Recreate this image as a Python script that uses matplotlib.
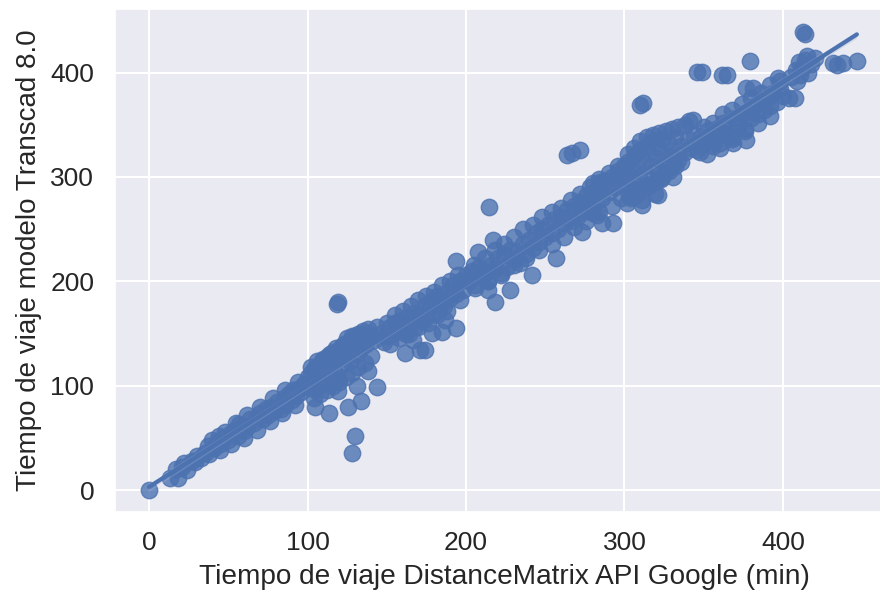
import matplotlib
matplotlib.use("Agg")
import matplotlib.pyplot as plt
import seaborn as sns
import numpy as np

# Travel time (minutes)
band_x_a = [0, 13, 18, 17, 21, 24, 22, 27, 30, 29, 33, 35, 38, 37, 41, 43, 45, 47, 44, 50, 52, 54, 56, 58, 60, 57]
band_y_a = [0, 12, 12, 20, 22, 19, 26, 28, 33, 27, 31, 36, 35, 42, 40, 46, 44, 50, 52, 48, 55, 58, 52, 60, 57, 63]

band_x_b = [62, 64, 66, 68, 70, 72, 74, 75, 77, 79, 81, 83, 85, 86, 88, 90, 91, 93, 95, 96, 98,
            40, 48, 55, 62, 70, 78, 86, 94, 45, 52, 60, 68, 76, 84, 92]
band_y_b = [60, 68, 64, 70, 74, 68, 78, 72, 80, 76, 84, 78, 88, 82, 92, 86, 96, 90, 98, 94, 102,
            48, 56, 64, 72, 80, 88, 96, 104, 38, 44, 50, 58, 66, 74, 82]

band_x_c = [100, 101, 102, 103, 104, 105, 106, 107, 108, 109, 110, 111, 112, 113, 114, 115, 116, 117, 118, 119,
            120, 121, 122, 123, 124, 125, 126, 127, 128, 129, 130, 131, 132, 133, 134, 135, 136, 137, 138, 140,
            142, 144, 146, 148, 150,
            102, 106, 110, 114, 118, 122, 126, 130, 134, 138, 104, 108, 112, 116, 120, 124, 128, 132, 136, 140]
band_y_c = [108, 100, 112, 104, 116, 96, 110, 120, 106, 124, 114, 102, 118, 128, 110, 122, 132, 116, 126, 106,
            130, 136, 120, 140, 128, 146, 134, 124, 148, 138, 142, 130, 150, 144, 136, 152, 146, 140, 150, 148,
            144, 156, 150, 142, 160,
            118, 124, 126, 130, 136, 138, 142, 148, 150, 154, 88, 92, 96, 100, 104, 108, 112, 118, 122, 128]

band_x_d = [150, 152, 154, 155, 157, 158, 160, 162, 163, 165, 167, 168, 170, 172, 174, 175, 177, 179, 180, 182,
            184, 186, 188, 190, 192, 194, 196, 198, 200,
            155, 160, 165, 170, 175, 180, 185, 190, 195, 152, 158, 164, 170, 176, 182, 188, 196]
band_y_d = [148, 156, 150, 160, 152, 162, 158, 150, 166, 160, 170, 156, 168, 162, 176, 166, 174, 182, 170, 186,
            178, 176, 190, 184, 196, 188, 200, 192, 206,
            168, 172, 176, 182, 186, 190, 196, 200, 206, 140, 146, 150, 156, 160, 168, 172, 182]

band_x_e = [202, 204, 206, 208, 210, 212, 214, 216, 218, 220, 222, 224, 226, 228, 230, 232, 234, 236, 238, 240,
            242, 244, 246, 248, 250, 252, 254, 256, 258, 260,
            205, 212, 218, 224, 230, 236, 242, 248, 254, 260, 206, 214, 222, 230, 238, 246, 254, 262]
band_y_e = [200, 210, 196, 214, 204, 208, 200, 216, 212, 222, 206, 226, 214, 230, 220, 228, 218, 236, 226, 240,
            232, 246, 238, 250, 242, 254, 246, 260, 250, 262,
            216, 222, 230, 236, 242, 250, 254, 262, 266, 270, 194, 200, 208, 216, 222, 230, 236, 242]

band_x_f = [262, 264, 266, 268, 270, 272, 274, 276, 278, 280, 282, 284, 286, 288, 290, 292, 294, 296, 298, 300,
            266, 272, 278, 284, 290, 296, 268, 276, 284, 292, 298]
band_y_f = [256, 268, 258, 272, 262, 276, 266, 282, 270, 286, 276, 290, 280, 296, 286, 300, 290, 306, 294, 310,
            278, 284, 290, 298, 304, 310, 252, 258, 266, 272, 280]

band_x_g = [300, 301, 302, 303, 304, 305, 306, 307, 308, 309, 310, 311, 312, 313, 314, 315, 316, 317, 318, 319,
            320, 321, 322, 323, 324, 325, 326, 327, 328, 330, 332, 334, 336, 338, 340, 342, 344,
            302, 306, 310, 314, 318, 322, 326, 330, 334, 338, 304, 308, 312, 316, 320, 324, 328, 332, 336]
band_y_g = [300, 290, 314, 282, 306, 296, 320, 288, 310, 300, 326, 278, 316, 304, 330, 292, 322, 310, 334, 284,
            318, 306, 328, 298, 336, 314, 324, 308, 332, 320, 338, 316, 330, 324, 336, 328, 340,
            322, 328, 334, 338, 340, 342, 344, 346, 348, 350, 280, 284, 288, 292, 296, 300, 306, 310, 314]

band_x_h = [346, 348, 350, 352, 354, 356, 358, 360, 362, 364, 366, 368, 370, 372, 374, 376, 378, 380, 382, 384,
            386, 388, 390, 392, 394, 396, 398, 400,
            350, 356, 362, 368, 374, 380, 386, 392, 398, 352, 360, 368, 376, 384, 392]
band_y_h = [326, 338, 332, 344, 336, 330, 346, 340, 352, 342, 348, 338, 356, 350, 360, 346, 362, 356, 368, 360,
            372, 364, 376, 368, 380, 372, 384, 378,
            348, 352, 360, 364, 370, 376, 380, 388, 392, 322, 328, 336, 344, 352, 358]

band_x_i = [405, 408, 410, 412, 414, 416, 418, 420, 411, 415, 409, 434]
band_y_i = [396, 402, 410, 404, 412, 400, 408, 414, 398, 416, 392, 407]

out_x = [128, 130, 105, 113.6, 125.5, 134, 119, 131, 144, 138, 118.6, 119,
         171, 174, 161.5, 166.5, 178.5, 185, 187, 194,
         214.5, 217, 207.6, 194, 218, 214, 228, 241.6, 257, 273, 282.6, 286, 292.7, 280, 301.5, 311, 321, 330.6,
         280, 284.5, 264, 267, 272,
         412.6, 414, 379, 345.7, 349, 361.5, 365, 311.7, 310, 343, 341, 377, 381, 397, 404, 407.6, 431.6, 438,
         446.7, 377, 368.6, 360, 347.6]
out_y = [36, 52, 80, 74, 80, 85, 95, 100, 99, 114, 178, 180,
         134, 134, 131, 144, 150.5, 151, 163, 155,
         271, 240, 228, 219, 180, 192, 192, 206, 222, 247, 263.6, 256, 256, 265.6, 275, 273, 283, 300,
         294, 295, 321, 323, 326,
         439, 437, 411, 400.7, 400.7, 398, 398, 371, 369, 354.6, 354, 385, 385, 395, 376, 376, 409, 409,
         411, 335.6, 332.6, 332.6, 324]

google_min = np.array(band_x_a + band_x_b + band_x_c + band_x_d + band_x_e + band_x_f + band_x_g
                      + band_x_h + band_x_i + out_x, dtype=float)
transcad_min = np.array(band_y_a + band_y_b + band_y_c + band_y_d + band_y_e + band_y_f + band_y_g
                        + band_y_h + band_y_i + out_y, dtype=float)

sns.set_theme(style="darkgrid")
plt.rcParams['font.family'] = ['Liberation Sans', 'DejaVu Sans']

fig = plt.figure(figsize=(8.8, 5.99), dpi=100)
ax = fig.add_axes([0.1307, 0.1452, 0.885, 0.840])

sns.regplot(x=google_min, y=transcad_min, ax=ax, color="#4C72B0",
            scatter_kws={"s": 140, "alpha": 0.8, "linewidths": 1},
            line_kws={"lw": 3}, seed=1)

ax.set_xlim(-21.5, 470)
ax.set_ylim(-21, 461)
ax.set_xticks([0, 100, 200, 300, 400])
ax.set_yticks([0, 100, 200, 300, 400])
ax.tick_params(axis='x', labelsize=19, pad=14, length=0, colors="#262626")
ax.tick_params(axis='y', labelsize=19, pad=15, length=0, colors="#262626")
ax.grid(color='white', linewidth=1.5)
ax.set_xlabel("Tiempo de viaje DistanceMatrix API Google (min)", fontsize=20.2, color="#262626", labelpad=6)
ax.set_ylabel("Tiempo de viaje modelo Transcad 8.0", fontsize=20, color="#262626", labelpad=6)

fig.savefig("out.png", dpi=100)
